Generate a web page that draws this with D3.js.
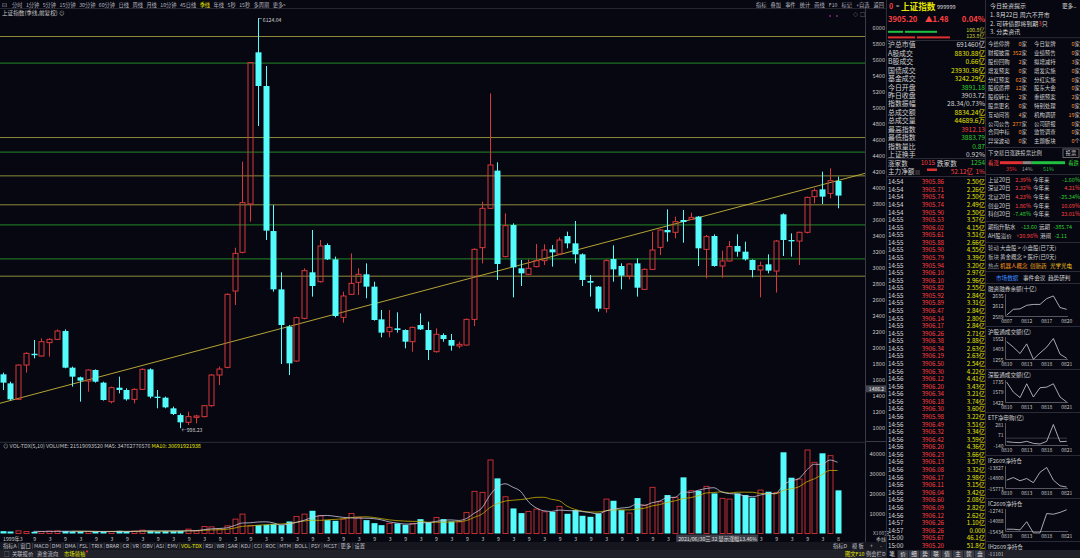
<!DOCTYPE html>
<html><head><meta charset="utf-8">
<script src="https://cdn.jsdelivr.net/npm/d3@7"></script>
<style>
body{margin:0;background:#060710;overflow:hidden}
svg text{font-family:"Noto Sans CJK SC","Noto Sans",sans-serif}
</style></head>
<body><svg id="c" width="1080" height="558"></svg>
<script>
// quarterly candles 1999Q3 .. 2026Q3
const opens=[1671,1558,1358,1787,1928,1900,2067,2108,2212,1754,1633,1587,1725,1567,1329,1504,1475,1358,1483,1733,1392,1379,1246,1162,1071,1133,1142,1279,1662,1758,2712,3196,3800,5696,5275,3462,2733,2267,1837,2371,2946,2829,3287,3108,2383,2671,2821,2921,2767,2358,2204,2246,2225,2079,2287,2225,1954,2162,2100,2025,2037,2358,3254,3746,4217,3142,3537,2996,2921,3017,3092,3233,3175,3400,3308,3171,2837,2767,2492,3112,3025,2900,3058,2733,2983,3258,3475,3446,3600,3608,3642,3233,3400,3025,3088,3275,3204,3100,2975,3046,2962,3671,3350,3337,3446,3892,3983,3933,4088];
const highs=[1692,1579,1796,1946,2100,2121,2121,2233,2233,1767,1642,1733,1733,1579,1517,1642,1496,1496,1746,1746,1475,1392,1267,1183,1204,1165,1287,1675,1767,2683,3254,4329,5570,6124.04,5525,3788,2946,2287,2392,2996,3475,3350,3308,3142,2704,3183,2996,3058,2829,2475,2475,2446,2233,2267,2433,2329,2246,2183,2175,2079,2367,3246,3829,5183,4321,3683,3558,3100,3108,3300,3296,3287,3383,3454,3588,3183,2912,2775,3108,3283,3058,3058,3121,2996,3454,3483,3733,3642,3725,3692,3650,3413,3421,3217,3337,3421,3329,3108,3079,3171,3350,3683,3433,3454,3892,3996,4204,4246,4142];
const lows=[1475,1342,1350,1692,1871,1892,1892,2100,1746,1517,1329,1454,1567,1342,1308,1433,1342,1308,1475,1371,1246,1246,1162,998.23,1037,1058,1133,1267,1537,1746,2537,3183,3579,4775,3350,2704,1800,1662,1829,2358,2642,2817,3100,2383,2317,2662,2662,2621,2342,2133,2133,2192,1996,1954,2225,1850,1942,2079,1967,1996,2029,2275,3058,3738,2850,3133,2633,2775,2912,3008,3037,3017,3162,3246,3058,2775,2642,2454,2442,2829,2733,2858,2642,2725,2975,3162,3329,3371,3317,3600,3025,2871,3017,2879,3079,3142,3092,2883,2633,2933,2692,3150,3142,3037,3433,3808,3800,3871,3746];
const closes=[1567,1358,1787,1933,1910,2079,2108,2212,1754,1642,1592,1725,1579,1350,1504,1475,1358,1483,1733,1392,1375,1258,1175,1071,1142,1150,1279,1662,1737,2671,3183,3817,5567,5275,3467,2733,2287,1808,2379,2967,2775,3275,3108,2400,2650,2808,2921,2767,2350,2192,2258,2225,2079,2258,2233,1975,2171,2112,2029,2046,2358,3233,3746,4288,3050,3529,3008,2933,2996,3092,3225,3196,3350,3308,3171,2850,2817,2492,3092,2983,2904,3050,2754,2983,3225,3475,3446,3579,3575,3633,3246,3392,3025,3088,3267,3204,3108,2975,3029,2967,3337,3350,3333,3446,3883,3967,3892,4092,3905.20];
const volumes=[1170,1000,1330,1000,830,1000,1170,1330,1170,1000,1000,1000,1000,830,1000,1330,1000,1170,1670,1330,1000,1170,1170,1330,2170,1330,3500,3330,2170,3830,7170,9670,3830,4170,4330,4670,4170,6000,8500,9670,11330,8830,6670,6330,7170,10000,8000,6670,5170,4170,5000,5000,4330,5000,7170,5500,8000,7170,6000,5830,10500,21000,20500,36670,27500,18330,12500,10170,11000,12170,10830,10830,13500,9830,11670,8830,8330,10000,17170,16330,11670,10170,17670,14170,23000,15830,19170,18000,28000,21330,21330,23500,20000,17500,17170,20000,19170,17830,21670,20830,20500,40500,27830,27170,41670,35500,40000,38830,21519];
// x labels (every second quarter, starting at the 5th candle), last one = current month
const firstLabel="1999年3";
const tickLabels=["9","3","9","3","9","3","9","3","9","3","9","3","9","3","9","3","9","3","9","3","9","3","9","3","9","3","9","3","9","3","9","3","9","3","9","3","9","3","9","3","9","3","9","3","9","3","9","3","9","3","9","3"];
const lastLabel="8";
const priceTicks=[1000,1200,1400,1600,1800,2000,2200,2400,2600,2800,3000,3200,3400,3600,3800,4000,4200,4400,4600,4800,5000,5200,5400,5600,5800,6000];
const volTicks=[10000,20000,30000,40000];
// user drawn level lines and trend line
const levelYellow=[5900,4637,4158,3796,2904];
const levelGreen=[5566,4454,3546,3121];
const trendFrom=[0,1318], trendTo=[108,4092];

const periodTabs=["分时","1分钟","5分钟","15分钟","30分钟","60分钟","日线","周线","月线","10分钟","45日线","季线","年线","5秒","15秒","多周期","更多>"];
const toolTabs=["指标","叠加","事件","统计","画线","F10","标记","+自选","返回"];
const indicatorTabs=["指标A","窗口","MACD","DMI","DMA","FSL","TRIX","BRAR","CR","VR","OBV","ASI","EMV","VOL-TDX","RSI","WR","SAR","KDJ","CCI","ROC","MTM","BOLL","PSY","MCST","更多","设置"];

// quote panel
const quoteRows=[["沪总市值","691460亿","w"],["A股成交","8830.88亿","y"],["B股成交","0.66亿","y"],["国债成交","23930.36亿","y"],["基金成交","3242.29亿","y"],["今日开盘","3891.18","g"],["昨日收盘","3903.72","w"],["指数振幅","28.34/0.73%","w"],["总成交额","8834.24亿","y"],["总成交量","44689.6万","y"],["最高指数","3912.13","r"],["最低指数","3883.79","g"],["指数量比","0.87","g"],["上证换手","0.92%","w"]];
const tickTimes=["14:54","14:54","14:54","14:54","14:54","14:55","14:55","14:55","14:55","14:55","14:55","14:55","14:55","14:55","14:55","14:55","14:55","14:55","14:55","14:55","14:55","14:55","14:55","14:55","14:55","14:56","14:56","14:56","14:56","14:56","14:56","14:56","14:56","14:56","14:56","14:56","14:56","14:56","14:56","14:56","14:56","14:56","14:56","14:56","14:56","14:57","14:57","15:00","15:00"];
const tickPrices=["3905.86","3905.71","3905.74","3905.74","3905.90","3905.53","3906.02","3905.61","3905.88","3905.90","3905.79","3905.94","3906.10","3906.10","3905.82","3905.92","3905.89","3906.47","3906.14","3906.17","3906.26","3906.38","3906.34","3906.19","3906.50","3906.30","3906.12","3906.20","3906.34","3906.18","3906.30","3905.98","3906.49","3906.32","3906.42","3906.20","3906.23","3906.13","3906.08","3906.17","3906.11","3906.04","3906.60","3906.09","3906.12","3906.26","3906.26","3905.67","3905.20"];
const tickAmounts=["2.50亿","2.26亿","2.50亿","2.49亿","2.50亿","3.57亿","4.15亿","3.51亿","2.66亿","4.55亿","3.39亿","3.20亿","2.97亿","2.96亿","2.55亿","2.84亿","3.31亿","2.84亿","2.80亿","2.84亿","2.71亿","2.88亿","2.63亿","2.63亿","2.54亿","4.22亿","4.41亿","3.43亿","3.21亿","3.74亿","3.60亿","3.22亿","3.51亿","3.34亿","3.59亿","4.36亿","3.66亿","3.57亿","3.32亿","2.98亿","3.15亿","3.42亿","2.08亿","2.82亿","2.62亿","1.10亿","0.000","46.1亿","51.8亿"];
const quoteTabs=["笔","价","细","势","联","值","主","筐","盘"];

// info panel
const tips=["1. 8月22日 周六不开市","2. 可转债即将到期3只","3. 分类资讯"];
const eventRows=[["今给停牌","0","家","今日复牌","0","家"],["财报披露","352","家","业绩预告","0","家"],["股份回购","2","家","拟增减持","3","家"],["增发预案","0","家","增发实施","0","家"],["分红预案","62","家","分红实施","0","家"],["股权质押","12","家","股东大会","0","家"],["股权转让","2","家","重组预案","2","家"],["股票更名","0","家","特别处理","0","家"],["互动问答","4","家","机构调研","19","家"],["公司公告","277","家","公司研报","0","家"],["合同中标","0","家","监管调查","0","家"],["异常波动","0","家","主题板块","0","个"]];
const votePct=[35,14,51];
const idx20=[["上证20日","2.39%","-1.60%"],["深证20日","2.32%","4.21%"],["北证20日","4.23%","-25.34%"],["创业20日","1.86%","10.69%"],["科创20日","-7.48%","23.01%"]];
const minis=[
 {title:"融资融券余额(十亿)",ticks:[2589,2612,2635],dates:["0807","0812","0817","0820"],vals:[2591,2604,2605,2613,2615,2615,2628,2634,2608,2604]},
 {title:"沪股通成交额(亿)",ticks:[1255,1403,1552],dates:["0810","0813","0818","0821"],vals:[1506,1427,1334,1474,1251,1343,1427,1552,1325,1265]},
 {title:"深股通成交额(亿)",ticks:[1422,1579,1735],dates:["0810","0813","0818","0821"],vals:[1725,1573,1489,1700,1498,1640,1649,1700,1498,1422]},
 {title:"ETF净申购(亿)",ticks:[-140,71,281],dates:["0810","0813","0818","0821"],vals:[-72,-86,-92,-65,-107,-119,-65,281,-72,-65]},
 {title:"IF2609净持仓",ticks:[-15773,-14800,-13827],dates:["0810","0813","0818","0821"],vals:[-15025,-14782,-15088,-14872,-15268,-14277,-13827,-15025,-15566,-15683]},
 {title:"IC2609净持仓",ticks:[-15434,-14088,-12741],dates:["0810","0813","0818","0821"],vals:[-15199,-15199,-15287,-14213,-15684,-15684,-13140,-13228,-12993,-12640]},
 {title:"IH2609净持仓",ticks:[-11101],dates:[],vals:[]}
];

const C={red:'#d8383a',cyan:'#54fcfc',yel:'#e6e600',grn:'#30d030',wht:'#d6d6d6',gray:'#8a8a94',sep:'#2a2b36',lvY:'#8f8a3a',lvG:'#1e6e20',trend:'#c8b43a',ma5:'#c8c8e0',ma10:'#c8b000'};
const col={w:C.wht,y:C.yel,g:C.grn,r:'#ff4040'};
const svg=d3.select('#c');
function T(g,x,y,s,o={}){return g.append('text').attr('x',x).attr('y',y).attr('dominant-baseline','central')
  .attr('text-anchor',o.a||'start').attr('font-size',o.fs||6).attr('fill',o.c||C.wht).attr('font-weight',o.w||null).text(s);}
function spread(g,items,x0,x1,y,fs,cf){
  const ts=items.map(s=>T(g,0,y,s,{fs,c:cf(s)}));
  const ws=ts.map(t=>t.node().getComputedTextLength());
  const gap=(x1-x0-d3.sum(ws))/(items.length-1);
  let xx=x0; const pos=[];
  ts.forEach((t,k)=>{t.attr('x',xx);pos.push([xx,ws[k]]);xx+=ws[k]+gap;});
  return pos;
}
function hl(g,x1,x2,yy,c){g.append('line').attr('x1',x1).attr('x2',x2).attr('y1',yy).attr('y2',yy).attr('stroke',c||C.sep).attr('stroke-width',1);}
function vl(g,xx,y1,y2,c){g.append('line').attr('x1',xx).attr('x2',xx).attr('y1',y1).attr('y2',y2).attr('stroke',c||C.sep).attr('stroke-width',1);}

// ---------- main chart ----------
const N=opens.length;
const x=d3.scaleLinear().domain([0,N-1]).range([2.7,837.5]);
const y=d3.scaleLinear().domain([1000,6000]).range([428,28]);
const yv=d3.scaleLinear().domain([0,40000]).range([533.5,453.3]);
const bars=d3.range(N).map(i=>({i,o:opens[i],h:highs[i],l:lows[i],c:closes[i],v:volumes[i],up:closes[i]>opens[i]}));

const tbar=svg.append('g');
hl(tbar,0,886,8.5,'#24252e');
spread(tbar,periodTabs,12,286,4.2,5.2,s=>s==="季线"?C.yel:'#b8b8c0');
T(tbar,2,4.2,"⊡",{fs:6,c:'#b8b8c0'});
spread(tbar,toolTabs,756,884,4.2,5.2,()=>'#b8b8c0');
T(tbar,2,12.5,"上证指数(季线,前复权) ⊙",{fs:5.6,c:'#c8c8c8'});
T(tbar,853,13,"◇",{fs:5,c:'#aaa'});T(tbar,860,13,"□",{fs:5,c:'#aaa'});
tbar.selectAll('circle.dot').data([830,837]).join('circle').attr('cx',d=>d).attr('cy',16).attr('r',0.8).attr('fill','#d040d0');

const plot=svg.append('g');
plot.selectAll('line.ly').data(levelYellow).join('line').attr('x1',0).attr('x2',866)
  .attr('y1',d=>y(d)+0.5).attr('y2',d=>y(d)+0.5).attr('stroke',C.lvY).attr('stroke-width',1);
plot.selectAll('line.lg').data(levelGreen).join('line').attr('x1',0).attr('x2',866)
  .attr('y1',d=>y(d)+0.5).attr('y2',d=>y(d)+0.5).attr('stroke',C.lvG).attr('stroke-width',1.3);
const tv=px=>{const xi=x.invert(px);return trendFrom[1]+(trendTo[1]-trendFrom[1])*(xi-trendFrom[0])/(trendTo[0]-trendFrom[0]);};
plot.append('line').attr('x1',0).attr('y1',y(tv(0))).attr('x2',866).attr('y2',y(tv(866))).attr('stroke',C.trend).attr('stroke-width',0.9);

const cg=plot.selectAll('g.k').data(bars).join('g');
cg.each(function(d){
  const g=d3.select(this), cx=Math.round(x(d.i))+0.5;
  if(d.up){
    g.append('line').attr('x1',cx).attr('x2',cx).attr('y1',y(d.h)).attr('y2',y(d.c)).attr('stroke',C.red);
    g.append('line').attr('x1',cx).attr('x2',cx).attr('y1',y(d.o)).attr('y2',y(d.l)).attr('stroke',C.red);
    g.append('rect').attr('x',cx-2.5).attr('width',5).attr('y',y(d.c)).attr('height',Math.max(1,y(d.o)-y(d.c)))
     .attr('fill','none').attr('stroke',C.red).attr('stroke-width',1);
  }else{
    g.append('line').attr('x1',cx).attr('x2',cx).attr('y1',y(d.h)).attr('y2',y(d.l)).attr('stroke',C.cyan);
    g.append('rect').attr('x',cx-3).attr('width',6).attr('y',y(d.o)).attr('height',Math.max(1.2,y(d.c)-y(d.o))).attr('fill',C.cyan);
  }
});
// high / low marks
const hi=d3.maxIndex(highs), lo=d3.minIndex(lows);
plot.append('line').attr('x1',x(hi)+0.5).attr('x2',x(hi)+4).attr('y1',y(highs[hi])+0.5).attr('y2',y(highs[hi])+0.5).attr('stroke','#ccc').attr('stroke-width',0.6);
T(plot,x(hi)+5,y(highs[hi])+1.5,highs[hi].toFixed(2),{fs:5.2,c:'#cfcfcf'});
T(plot,x(lo)+1,y(lows[lo])+1,"←"+lows[lo].toFixed(2),{fs:5.2,c:'#cfcfcf'});

// price axis
vl(svg,865.5,8,550,'#3a3b46');
const ax=svg.append('g').attr('transform','translate(885,0)').call(d3.axisLeft(y).tickValues(priceTicks).tickSize(0).tickPadding(0).tickFormat(d3.format('d')));
ax.select('.domain').remove();
ax.selectAll('text').attr('font-size',5.6).attr('fill','#c8c8c8').attr('font-family','"Noto Sans","DejaVu Sans",sans-serif');
svg.append('rect').attr('x',866).attr('y',385.3).attr('width',21).attr('height',7).attr('fill','#44454e');
T(svg,876.5,388.8,"1486.2",{fs:5,a:'middle',c:'#eee'});

// ---------- volume pane ----------
hl(svg,0,866,442.3,'#2c2d38');
const vt=svg.append('text').attr('x',3).attr('y',446).attr('dominant-baseline','central').attr('font-size',5.4).attr('fill','#c8c8c8');
vt.append('tspan').text("⊙ VOL-TDX(5,10) VOLUME: 21519093520  MA5: 34762776576  ");
vt.append('tspan').attr('fill',C.yel).text("MA10: 30691921938");
const vg=svg.append('g');
vg.selectAll('rect').data(bars).join('rect')
  .attr('x',d=>Math.round(x(d.i))+0.5-(d.up?2.5:3)).attr('width',d=>d.up?5:6)
  .attr('y',d=>yv(d.v)).attr('height',d=>Math.max(1,yv(0)-yv(d.v)))
  .attr('fill',d=>d.up?'none':C.cyan).attr('stroke',d=>d.up?'#c02e32':'none').attr('stroke-width',1);
function ma(n){return volumes.map((v,i)=>i<n-1?null:d3.mean(volumes.slice(i-n+1,i+1)));}
const ln=d3.line().defined(d=>d[1]!=null).x(d=>x(d[0])).y(d=>yv(d[1])).curve(d3.curveMonotoneX);
vg.append('path').attr('d',ln(ma(10).map((v,i)=>[i,v]))).attr('fill','none').attr('stroke',C.ma10).attr('stroke-width',0.8);
vg.append('path').attr('d',ln(ma(5).map((v,i)=>[i,v]))).attr('fill','none').attr('stroke',C.ma5).attr('stroke-width',0.8);
const vax=svg.append('g').attr('transform','translate(885,0)').call(d3.axisLeft(yv).tickValues(volTicks).tickSize(0).tickPadding(0).tickFormat(d3.format('d')));
vax.select('.domain').remove();
vax.selectAll('text').attr('font-size',5.6).attr('fill','#c8c8c8').attr('font-family','"Noto Sans","DejaVu Sans",sans-serif');
hl(svg,866,886,441.5,'#3a3b46');
T(svg,873,532,"X100万",{fs:5,c:'#bbb'});
T(svg,876,538.5,"季线",{fs:5,c:'#bbb'});

// x labels
const xl=svg.append('g');
const tipX0=x(87)+1, tipW=82;
T(xl,3,538.3,firstLabel,{fs:5.2,c:'#c8c8c8'});
const shown=tickLabels.map((d,k)=>({d,i:4+2*k})).filter(t=>x(t.i)+1<tipX0-3||x(t.i)+1>tipX0+tipW+3);
xl.selectAll('text.t').data(shown).join('text').attr('class','t')
  .attr('x',t=>x(t.i)+1).attr('y',538.3).attr('dominant-baseline','central').attr('text-anchor','middle')
  .attr('font-size',5.2).attr('fill','#c8c8c8').text(t=>t.d);
T(xl,x(N-1)+1,538.3,lastLabel,{fs:5.2,c:'#c8c8c8',a:'middle'});
xl.append('rect').attr('x',tipX0).attr('y',534.5).attr('width',tipW).attr('height',7.5).attr('fill','#3c3d47');
T(xl,tipX0+2,538.3,"2021/06/30三 32 显示涨幅13.46%",{fs:5.2,c:'#e0e0e0'});

// tabs rows
svg.append('rect').attr('x',0).attr('y',542).attr('width',886).attr('height',8).attr('fill','#15161e');
svg.append('rect').attr('x',0).attr('y',550).attr('width',1080).attr('height',8).attr('fill','#202129');
const tp=spread(svg,indicatorTabs,3,365,546,5.3,s=>s==="VOL-TDX"?C.yel:'#c0c0c8');
tp.slice(1).forEach(p=>vl(svg,p[0]-1.5,543,549,'#3a3b46'));
T(svg,833,546,"指标D",{fs:5.3,c:'#c0c0c8'});T(svg,852,546,"模 板",{fs:5.3,c:'#c0c0c8'});
T(svg,870,546,"+",{fs:5.5,c:'#c0c0c8'});T(svg,880,546,"-",{fs:5.5,c:'#c0c0c8'});
T(svg,4,554,"□",{fs:5.5,c:'#aaa'});
T(svg,12,554,"关联报价",{fs:5.3,c:'#c0c0c8'});T(svg,37,554,"资金流向",{fs:5.3,c:'#c0c0c8'});T(svg,64,554,"市场领袖",{fs:5.3,c:C.yel});
svg.append('circle').attr('cx',87).attr('cy',551.5).attr('r',1).attr('fill','#ff3030');
T(svg,845,554,"图文F10",{fs:5.3,c:C.yel});T(svg,866,554,"例会栏D",{fs:5.3,c:'#c0c0c8'});

// ---------- quote panel ----------
const q=svg.append('g');
vl(q,886.5,0,550,'#2c2d38');vl(q,985.5,0,550,'#2c2d38');
T(q,889,5.8,"0",{fs:7,c:'#ff4040',w:'bold'});T(q,896,5.8,"=",{fs:6,c:'#bbb'});
T(q,901,5.8,"上证指数",{fs:8.6,c:C.yel,w:'bold'});T(q,937,6.5,"999999",{fs:5.6,c:'#ddd'});
T(q,888,18.3,"3905.20",{fs:7.6,c:'#ff4040',w:'bold'});T(q,925,18.3,"▲1.48",{fs:7.6,c:'#ff4040',w:'bold'});
T(q,985,18.3,"0.04%",{fs:7.6,c:'#ff4040',w:'bold',a:'end'});
q.append('rect').attr('x',888).attr('y',30.8).attr('width',15).attr('height',2).attr('fill','#20c040');
q.append('rect').attr('x',905).attr('y',30.8).attr('width',32).attr('height',2).attr('fill','#20c040');
q.append('rect').attr('x',888).attr('y',36.4).attr('width',27).attr('height',2).attr('fill','#e03030');
q.append('rect').attr('x',917).attr('y',36.4).attr('width',33).attr('height',2).attr('fill','#e03030');
T(q,985,30,"100.8亿",{fs:5.4,c:'#c8c830',a:'end'});T(q,985,36,"123.8亿",{fs:5.4,c:'#c8c830',a:'end'});
hl(q,887,985,40.5);
quoteRows.forEach((r,k)=>{const yy=44.3+8.44*k;T(q,888,yy,r[0],{fs:6.9,c:'#d0d0d0'});T(q,985,yy,r[1],{fs:6.6,c:col[r[2]],a:'end'});});
hl(q,887,985,158.5);
T(q,888,162.7,"涨家数",{fs:6.6,c:'#d0d0d0'});T(q,935,162.7,"1015",{fs:6.4,c:'#ff4040',a:'end'});
T(q,937,162.7,"跌家数",{fs:6.6,c:'#d0d0d0'});T(q,985,162.7,"1254",{fs:6.4,c:C.grn,a:'end'});
T(q,888,171.3,"主力净额",{fs:6.6,c:'#d0d0d0'});T(q,915,171.3,"▤",{fs:5,c:'#888'});
q.append('rect').attr('x',927).attr('y',168.5).attr('width',10).attr('height',2.5).attr('fill','#e03030');
T(q,973,171.3,"52.12亿",{fs:6.4,c:'#ff4040',a:'end'});T(q,985,171.3,"1%",{fs:6.4,c:'#ff4040',a:'end'});
hl(q,887,985,176.5);
tickTimes.forEach((t,k)=>{const yy=181.7+7.575*k;
  T(q,888,yy,t,{fs:6.2,c:'#d8d8d8'});T(q,944,yy,tickPrices[k],{fs:6.2,c:'#ff4040',a:'end'});
  T(q,985,yy,tickAmounts[k],{fs:6.2,c:'#e6e600',a:'end'});});
quoteTabs.forEach((s,k)=>{const xx=887+k*11;q.append('rect').attr('x',xx).attr('y',550.5).attr('width',10).attr('height',7.5).attr('fill',k===0?'#0c0d14':'#3a3b44');
  T(q,xx+5,554.3,s,{fs:5.6,c:'#e0e0e0',a:'middle'});});

// ---------- info panel ----------
const r=svg.append('g');
T(r,990,5.5,"今日投资提示",{fs:6,c:'#d8d8d8'});T(r,1062,5.5,"更多..",{fs:5.6,c:'#d8d8d8'});
tips.forEach((s,k)=>{const t=T(r,990,14.3+8.8*k,"",{fs:6,c:'#d8d8d8'});
  if(k===1){t.append('tspan').text("2. 可转债即将到期");t.append('tspan').attr('fill','#ff4040').text("3");t.append('tspan').text("只");}else t.text(s);});
hl(r,986,1080,37.7);
eventRows.forEach((e,k)=>{const yy=44.3+8.8*k;
  T(r,988,yy,e[0],{fs:5.4,c:'#d0d0d0'});
  const a=T(r,1027,yy,"",{fs:5.4,a:'end'});a.append('tspan').attr('fill','#ff8c1a').text(e[1]);a.append('tspan').attr('fill','#d0d0d0').text(e[2]);
  T(r,1034,yy,e[3],{fs:5.4,c:'#d0d0d0'});
  const b=T(r,1080,yy,"",{fs:5.4,a:'end'});b.append('tspan').attr('fill','#ff8c1a').text(e[4]);b.append('tspan').attr('fill','#d0d0d0').text(e[5]);});
hl(r,986,1080,147.5);
T(r,988,153.3,"下交易日涨跌投票比例",{fs:5.4,c:'#d0d0d0'});
r.append('rect').attr('x',1063).attr('y',149).attr('width',16).attr('height',8.5).attr('fill','none').attr('stroke','#666');
T(r,1071,153.3,"投票",{fs:5.4,c:'#d0d0d0',a:'middle'});
T(r,988,162.7,"看涨",{fs:5.4,c:'#ff4040'});T(r,1079,162.7,"看跌",{fs:5.4,c:C.grn,a:'end'});
const vs=d3.scaleLinear().domain([0,100]).range([1000,1065]);
const vcol=['#e03030','#888','#20c040'];let acc=0;
votePct.forEach((p,k)=>{r.append('rect').attr('x',vs(acc)).attr('y',161.2).attr('width',vs(acc+p)-vs(acc)).attr('height',3).attr('fill',vcol[k]);
  T(r,vs(acc+p/2),169.3,p+"%",{fs:5.4,c:vcol[k]==='#888'?'#999':vcol[k],a:'middle'});acc+=p;});
hl(r,986,1080,174.5);
idx20.forEach((e,k)=>{const yy=179.5+8.7*k;
  T(r,988,yy,e[0],{fs:5.5,c:'#d0d0d0'});
  T(r,1031,yy,e[1],{fs:5.5,c:e[1][0]==='-'?C.grn:'#ff4040',a:'end'});
  T(r,1033,yy,"今年来",{fs:5.5,c:'#d0d0d0'});
  T(r,1080,yy,e[2],{fs:5.5,c:e[2][0]==='-'?C.grn:'#ff4040',a:'end'});});
hl(r,986,1080,221.5);
T(r,988,226.7,"期指升贴水",{fs:5.5,c:'#d0d0d0'});T(r,1037,226.7,"-13.60",{fs:5.5,c:C.grn,a:'end'});
T(r,1039,226.7,"远期",{fs:5.5,c:'#d0d0d0'});T(r,1072,226.7,"-385.74",{fs:5.5,c:C.grn,a:'end'});
T(r,988,235.7,"AH股溢价",{fs:5.5,c:'#d0d0d0'});T(r,1038,235.7,"+20.96%",{fs:5.5,c:'#ff4040',a:'end'});
T(r,1040,235.7,"港闸",{fs:5.5,c:'#d0d0d0'});T(r,1067,235.7,"-2.11",{fs:5.5,c:C.grn,a:'end'});
hl(r,986,1080,242.5);
T(r,988,248.3,"轮动",{fs:5.5,c:'#aaa'});T(r,1000,248.3,"大盘股 > 小盘股(已7天)",{fs:5.5,c:'#d0d0d0'});
T(r,988,257.3,"板块",{fs:5.5,c:'#aaa'});T(r,1000,257.3,"黄金概念 > 医疗(已0天)",{fs:5.5,c:'#d0d0d0'});
T(r,988,266,"热点",{fs:5.5,c:'#aaa'});T(r,1000,266,"机器人概念",{fs:5.5,c:'#ff9a1a'});T(r,1030,266,"创新药",{fs:5.5,c:'#ffb020'});T(r,1050,266,"光学光电",{fs:5.5,c:'#ffcc20'});
hl(r,986,1080,271.5);
T(r,996,277.7,"市场数据",{fs:5.6,c:'#3c8cff'});T(r,1023,277.7,"事件会议",{fs:5.6,c:'#d0d0d0'});T(r,1048,277.7,"趋势研判",{fs:5.6,c:'#d0d0d0'});
hl(r,986,1080,283.5);
const mx=d3.scaleLinear().domain([0,9]).range([1006.7,1066.7]);
minis.forEach((m,k)=>{
  const ty=289+43*k;
  T(r,988,ty,m.title,{fs:5.6,c:'#d0d0d0'});
  const ext=d3.extent(m.ticks);
  const my=d3.scaleLinear().domain(ext[0]===ext[1]?[ext[0]-1,ext[0]]:ext).range([ty+27,ty+6.5]);
  m.ticks.forEach(t=>T(r,1003.5,my(t),t,{fs:5,c:'#c8c8c8',a:'end'}));
  if(m.vals.length){
    vl(r,1005.5,ty+5,ty+27.5,'#55565f');hl(r,1005.5,1068,ty+27.5,'#55565f');
    if(ext[0]<0&&ext[1]>0) hl(r,1006,1067,my(0),'#3a3b44');
    r.append('path').attr('d',d3.line().x((d,i)=>mx(i)).y(d=>my(d))(m.vals)).attr('fill','none').attr('stroke','#d0d0d8').attr('stroke-width',0.8);
    m.dates.forEach((s,j)=>T(r,mx(j*3),ty+31.5,s,{fs:5,c:'#c8c8c8',a:'middle'}));
  }
  if(k<minis.length-1) hl(r,986,1080,ty+37.5);
});
</script></body></html>
